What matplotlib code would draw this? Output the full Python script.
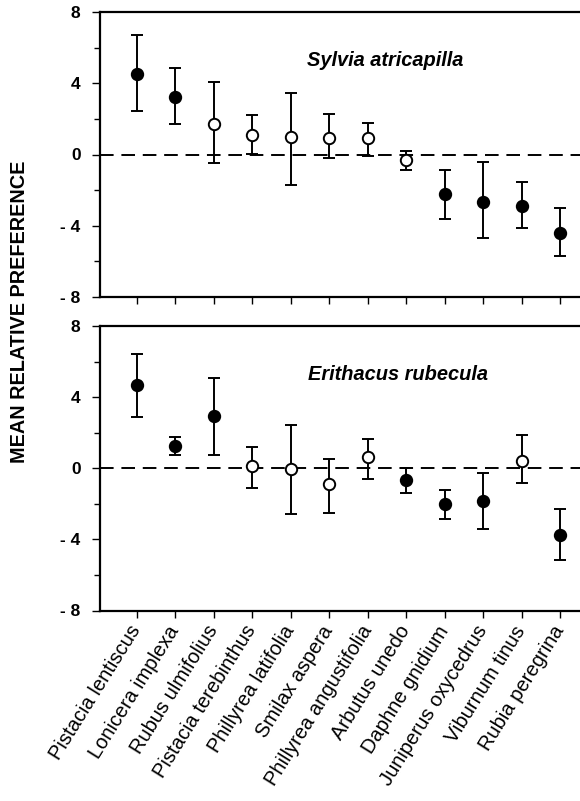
import matplotlib
matplotlib.use("Agg")
import matplotlib.pyplot as plt
from matplotlib.ticker import MultipleLocator, FixedLocator
import numpy as np

plt.rcParams['font.family'] = ['Liberation Sans', 'DejaVu Sans']

species = ["Pistacia lentiscus", "Lonicera implexa", "Rubus ulmifolius",
           "Pistacia terebinthus", "Phillyrea latifolia", "Smilax aspera",
           "Phillyrea angustifolia", "Arbutus unedo", "Daphne gnidium",
           "Juniperus oxycedrus", "Viburnum tinus", "Rubia peregrina"]

# Sylvia atricapilla
sylvia_mean = [4.50, 3.23, 1.69, 1.07, 0.98, 0.94, 0.92, -0.30, -2.24, -2.69, -2.89, -4.41]
sylvia_upper = [6.70, 4.86, 4.07, 2.24, 3.44, 2.29, 1.79, 0.17, -0.85, -0.43, -1.52, -3.03]
sylvia_lower = [2.42, 1.73, -0.49, 0.04, -1.71, -0.19, -0.11, -0.85, -3.62, -4.66, -4.13, -5.69]
sylvia_filled = [True, True, False, False, False, False, False, False, True, True, True, True]

# Erithacus rubecula
erith_mean = [4.68, 1.26, 2.94, 0.10, -0.03, -0.89, 0.66, -0.66, -1.99, -1.84, 0.42, -3.78]
erith_upper = [6.45, 1.73, 5.07, 1.22, 2.44, 0.51, 1.67, 0.01, -1.24, -0.29, 1.88, -2.29]
erith_lower = [2.90, 0.74, 0.76, -1.13, -2.57, -2.53, -0.61, -1.37, -2.83, -3.44, -0.85, -5.18]
erith_filled = [True, True, True, False, False, False, False, True, True, True, False, True]

yticks = [-8, -4, 0, 4, 8]
ytick_labels = ["- 8", "- 4", "0", "4", "8"]

W, H = 580, 801
fig = plt.figure(figsize=(W / 100, H / 100), dpi=100)

def px_axes(left, top, right, bottom):
    return fig.add_axes([left / W, 1 - bottom / H, (right - left) / W, (bottom - top) / H])

ax1 = px_axes(100, 12, 580, 297)
ax2 = px_axes(100, 326, 580, 610.5)

def draw(ax, mean, upper, lower, filled, title, tx, ty):
    x = np.arange(len(mean))
    mean = np.array(mean); upper = np.array(upper); lower = np.array(lower)
    ax.axhline(0, color='black', lw=1.4, dashes=(7, 4), zorder=1)
    for i in range(len(mean)):
        ax.errorbar([x[i]], [mean[i]],
                    yerr=[[mean[i] - lower[i]], [upper[i] - mean[i]]],
                    fmt='o', ms=8.2, mfc='black' if filled[i] else 'white',
                    mec='black', mew=1.4, ecolor='black', elinewidth=1.4,
                    capsize=4.5, capthick=1.4, zorder=3)
    ax.set_xlim(-0.954, 11.52)
    ax.set_ylim(-8, 8)
    ax.yaxis.set_major_locator(FixedLocator(yticks))
    ax.set_yticklabels(ytick_labels, fontsize=12.5, fontweight='bold')
    ax.yaxis.set_minor_locator(MultipleLocator(2))
    ax.set_xticks(x)
    ax.tick_params(axis='y', which='major', direction='out', length=6, width=1.0, pad=8)
    ax.tick_params(axis='y', which='minor', direction='out', length=4, width=1.0)
    ax.tick_params(axis='x', direction='out', length=5, width=1.0)
    ax.spines['right'].set_visible(False)
    for s in ['left', 'top', 'bottom']:
        ax.spines[s].set_linewidth(1.6)
    ax.text(tx, ty, title, transform=ax.transAxes, fontsize=14.4,
            fontweight='bold', fontstyle='italic', ha='center', va='center')

draw(ax1, sylvia_mean, sylvia_upper, sylvia_lower, sylvia_filled,
     "Sylvia atricapilla", (385 - 100) / 480, (297 - 61) / 285)
draw(ax2, erith_mean, erith_upper, erith_lower, erith_filled,
     "Erithacus rubecula", (398 - 100) / 480, (610.5 - 374) / 284.5)

ax1.set_xticklabels([])
ax2.set_xticklabels(species, rotation=58, ha='right', va='center',
                    rotation_mode='anchor', fontsize=14.5)
ax2.tick_params(axis='x', pad=7)

fig.text(20 / W, 1 - 312 / H, "MEAN RELATIVE PREFERENCE", rotation=90,
         fontsize=14.3, fontweight='bold', ha='center', va='center')

fig.savefig("out.png", dpi=100)
